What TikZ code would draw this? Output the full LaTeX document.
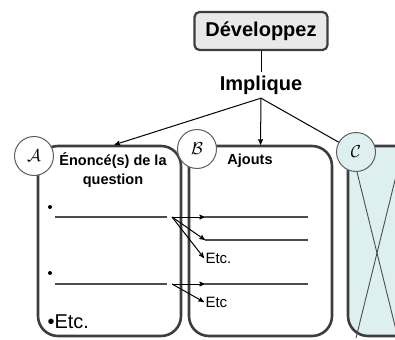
\documentclass[tikz,border=0pt]{standalone}
\usepackage{fontspec}
\setmainfont{Liberation Sans}
\usetikzlibrary{arrows}

\definecolor{edgegray}{HTML}{3D3D3D}
\definecolor{boxgray}{HTML}{E9E9E9}
\definecolor{paleblue}{HTML}{DDEFEF}

\begin{document}
\begin{tikzpicture}[x=1pt,y=-1pt,->,>=stealth',line width=1pt,
  title node/.style={draw=edgegray,line width=2.2pt,fill=boxgray,rounded corners=5pt,
    minimum width=133pt,minimum height=38pt,font=\fontsize{20}{22}\selectfont\bfseries},
  col box/.style={draw=edgegray,line width=2.6pt,rounded corners=20pt},
  tag node/.style={circle,draw=gray!75!black,line width=1pt,fill=white,
    minimum size=39pt,inner sep=0pt,font=\fontsize{18}{20}\selectfont},
  rule/.style={-,draw=gray!60!black,line width=1.3pt},
  head/.style={font=\fontsize{14.5}{19}\selectfont\bfseries,align=center},
  etc/.style={anchor=west,inner sep=1pt,font=\fontsize{15}{17}\selectfont}]

  \clip (0,0) rectangle (395,339);

  \node[title node] (dev) at (261,31) {Développez};
  \node[font=\fontsize{20}{22}\selectfont\bfseries] (impl) at (261,85) {Implique};

  % the three columns
  \node[col box,minimum width=143pt,minimum height=190pt] (boxA) at (109.5,241) {};
  \node[col box,minimum width=143pt,minimum height=190pt] (boxB) at (260.5,241) {};
  \node[col box,fill=paleblue,minimum width=72pt,minimum height=190pt] (boxC) at (384,241) {};

  % picture placeholder in C
  \coordinate (pc1) at (356,168);
  \coordinate (pc2) at (398,168);
  \coordinate (pc3) at (356,338);
  \coordinate (pc4) at (398,338);
  \draw[-,gray!60!black,line width=0.9pt] (pc1) -- (pc4);
  \draw[-,gray!60!black,line width=0.9pt] (pc2) -- (pc3);

  \node[head] (hA) at (113,170) {Énoncé(s) de la\\question};
  \node[head] (hB) at (250,161) {Ajouts};

  \path (dev) edge[-] (impl)
    (impl.south) edge ([xshift=5pt]boxA.north)
    (impl.south) edge (boxB.north)
    (impl.south) edge[-] (356,152);

  \node[tag node] (tagA) at (34,156) {$\mathcal{A}$};
  \node[tag node] (tagB) at (197,149) {$\mathcal{B}$};
  \node[tag node,fill=paleblue] (tagC) at (356,152) {$\mathcal{C}$};

  % bullets and rules in A
  \fill (50,207) circle (2pt);
  \fill (50,273) circle (2pt);
  \coordinate (a1s) at (55,217);
  \coordinate (a1e) at (167,217);
  \coordinate (a2s) at (55,284);
  \coordinate (a2e) at (167,284);
  \draw[rule] (a1s) -- (a1e);
  \draw[rule] (a2s) -- (a2e);
  \node[anchor=west,inner sep=0pt,font=\fontsize{20}{24}\selectfont] (etcA) at (47,322) {•Etc.};

  % rules in B
  \coordinate (b1s) at (205,217);
  \coordinate (b1e) at (308,217);
  \coordinate (b2s) at (205,240);
  \coordinate (b2e) at (308,240);
  \coordinate (b3s) at (205,284);
  \coordinate (b3e) at (308,284);
  \draw[rule] (b1s) -- (b1e);
  \draw[rule] (b2s) -- (b2e);
  \draw[rule] (b3s) -- (b3e);
  \node[etc] (etc1) at (204,258) {Etc.};
  \node[etc] (etc2) at (204,302) {Etc};

  \coordinate (f1) at (172,217);
  \coordinate (f2) at (172,284);
  \path (f1) edge (b1s)
    (f1) edge (b2s)
    (f1) edge (etc1.west)
    (f2) edge (b3s)
    (f2) edge (etc2.west);

\end{tikzpicture}
\end{document}
